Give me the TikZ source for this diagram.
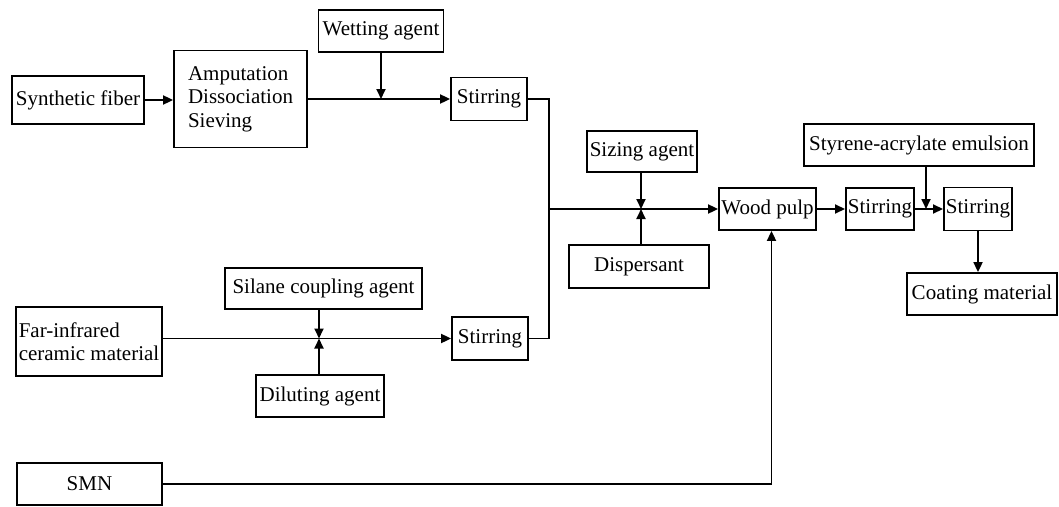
\documentclass[tikz,border=0pt]{standalone}
\usepackage{fontspec}
\setmainfont{Liberation Serif}
\usetikzlibrary{positioning}
\usetikzlibrary{arrows.meta}

\begin{document}
\begin{tikzpicture}[x=1pt, y=-1pt, line width=1.8pt,
    font=\fontsize{21}{23.5}\selectfont,
    blk/.style={draw, rectangle, inner sep=2pt},
    flow/.style={-{Triangle[length=10pt,width=9pt]}}]
            \useasboundingbox (0,0) rectangle (1059,506);
            % fibre line
            \node[blk, minimum width=132pt, minimum height=48pt] (fiber) at (78,100) {Synthetic fiber};
            \node[blk, align=left, minimum width=133pt, minimum height=97pt] (cut) at (240.5,99) {Amputation\\Dissociation\\Sieving};
            \node[blk, minimum width=125pt, minimum height=42pt] (wet) at (381,31) {Wetting agent};
            \node[blk, minimum width=76pt, minimum height=43pt] (stir1) at (489,99) {Stirring};

            % ceramic line
            \node[blk, align=left, minimum width=146pt, minimum height=69pt] (far) at (89,341.5) {Far-infrared\\ceramic material};
            \node[blk, minimum width=197pt, minimum height=41pt] (silane) at (323.5,288.5) {Silane coupling agent};
            \node[blk, minimum width=128pt, minimum height=42pt] (dilute) at (320,396) {Diluting agent};
            \node[blk, minimum width=76pt, minimum height=43pt] (stir4) at (490,338.5) {Stirring};
            \node[blk, minimum width=145pt, minimum height=42pt] (smn) at (89.5,484) {SMN};

            % pulp and coating
            \node[blk, minimum width=110pt, minimum height=41pt] (size) at (642,151.5) {Sizing agent};
            \node[blk, minimum width=140pt, minimum height=43pt] (disp) at (639,266.5) {Dispersant};
            \node[blk, minimum width=97pt, minimum height=42pt] (pulp) at (767.5,209) {Wood pulp};
            \node[blk, minimum width=68pt, minimum height=42pt] (stir2) at (880,209) {Stirring};
            \node[blk, minimum width=230pt, minimum height=42pt] (styr) at (919,145) {Styrene-acrylate emulsion};
            \node[blk, minimum width=68pt, minimum height=43pt] (stir3) at (978,209) {Stirring};
            \node[blk, minimum width=150pt, minimum height=42pt] (coat) at (982,294) {Coating material};

            \coordinate (merge) at (549,209);
            \coordinate (mix) at (641,209);
            \coordinate (couple) at (319,338.5);
            \coordinate (emul) at (926,209);

            \draw[flow] (fiber.east) -- (fiber.east -| cut.west);
            \draw[flow] (cut.east) -- (stir1.west);
            \draw[flow] (wet.south) -- (wet.south |- stir1.west);
            \draw[flow] (far.east |- stir4.west) -- (stir4.west);
            \draw[flow] (silane.south -| couple) -- (couple);
            \draw[flow] (dilute.north -| couple) -- (couple);

            \draw (stir1.east) -| (merge);
            \draw (stir4.east) -| (merge);
            \draw[flow] (merge) -- (pulp.west);
            \draw[flow] (size.south -| mix) -- (mix);
            \draw[flow] (disp.north -| mix) -- (mix);
            \draw[flow] (smn.east) -| ([xshift=4pt]pulp.south);

            \draw[flow] (pulp.east) -- (stir2.west);
            \draw[flow] (stir2.east) -- (stir3.west);
            \draw[flow] (styr.south -| emul) -- (emul);
            \draw[flow] (stir3.south) -- (stir3.south |- coat.north);
        \end{tikzpicture}
\end{document}
